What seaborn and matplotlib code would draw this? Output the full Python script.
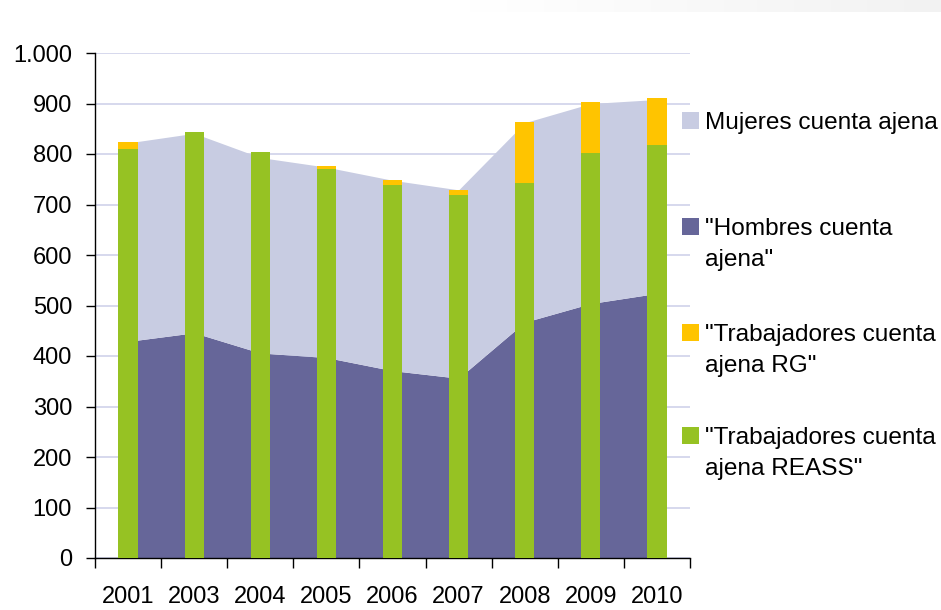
import numpy as np
import pandas as pd
import matplotlib
matplotlib.use("Agg")
import matplotlib.pyplot as plt
import seaborn as sns
from matplotlib.patches import Rectangle
from matplotlib.colors import LinearSegmentedColormap

# ---- data ----
years = ["2001", "2003", "2004", "2005", "2006", "2007", "2008", "2009", "2010"]
hombres = [429, 446, 406, 397, 371, 356, 467, 504, 524]
mujeres = [393, 395, 387, 377, 377, 373, 395, 396, 384]
reass = [810, 844, 804, 770, 739, 719, 743, 802, 818]
rg = [14, 0, 0, 6, 10, 10, 120, 101, 93]
yticks = [0, 100, 200, 300, 400, 500, 600, 700, 800, 900, 1000]
ytick_labels = ["0", "100", "200", "300", "400", "500", "600", "700", "800", "900", "1.000"]
legend_labels = [
    ["Mujeres cuenta ajena"],
    ['"Hombres cuenta', 'ajena"'],
    ['"Trabajadores cuenta', 'ajena RG"'],
    ['"Trabajadores cuenta', 'ajena REASS"'],
]

# ---- style ----
c_muj = "#C8CCE2"
c_hom = "#666699"
c_rg = "#FFC400"
c_reass = "#96C223"
c_grid = "#D3D6EC"

sns.set_theme(style="white")
plt.rcParams["font.family"] = ["Liberation Sans", "DejaVu Sans"]

W, H = 941, 610
fig = plt.figure(figsize=(W / 100, H / 100), dpi=100)

# faint top band
band = fig.add_axes([0, 1 - 12 / H, 1, 12 / H])
grad = np.linspace(0, 1, 256).reshape(1, -1)
cmap = LinearSegmentedColormap.from_list("band", [(0, "#FFFFFF"), (0.5, "#FFFFFF"), (1, "#F2F2F2")])
band.imshow(grad, aspect="auto", cmap=cmap, extent=[0, 1, 0, 1])
band.axis("off")

ax = fig.add_axes([95 / W, 52 / H, 595 / W, 505 / H])

df = pd.DataFrame({
    "year": years,
    "total": np.array(reass) + np.array(rg),
    "reass": reass,
})

sns.barplot(data=df, x="year", y="total", order=years, color=c_rg, saturation=1,
            width=0.29, linewidth=0, ax=ax, zorder=3)
sns.barplot(data=df, x="year", y="reass", order=years, color=c_reass, saturation=1,
            width=0.29, linewidth=0, ax=ax, zorder=4)

x = np.arange(len(years))
ax.stackplot(x, hombres, mujeres, colors=[c_hom, c_muj], linewidth=0, zorder=1)

ax.set_xlim(-0.5, len(years) - 0.5)
ax.set_ylim(0, 1000)
ax.set_yticks(yticks)
ax.set_yticklabels(ytick_labels)
ax.set_xticks(x)
ax.set_xticklabels(years)
ax.set_xticks(np.arange(-0.5, len(years), 1), minor=True)
ax.set_xlabel("")
ax.set_ylabel("")

ax.tick_params(axis="y", which="major", left=True, length=6.5, width=1, color="black",
               direction="out", pad=10, labelsize=17, labelcolor="black")
ax.tick_params(axis="x", which="major", bottom=True, length=0, pad=20.5,
               labelsize=17, labelcolor="black")
ax.tick_params(axis="x", which="minor", bottom=True, length=7, width=1,
               color="black", direction="out")

for s in ["top", "right"]:
    ax.spines[s].set_visible(False)
for s in ["left", "bottom"]:
    ax.spines[s].set_visible(True)
    ax.spines[s].set_color("black")
    ax.spines[s].set_linewidth(1)

ax.yaxis.grid(True, color=c_grid, linewidth=1.3)
ax.xaxis.grid(False)
ax.set_axisbelow(True)

# ---- legend (manual, Excel style: marker aligned with first line) ----
leg_colors = [c_muj, c_hom, c_rg, c_reass]
first_baselines = [129, 235, 341, 444]
line_gap = 31
for col, lines, base in zip(leg_colors, legend_labels, first_baselines):
    fig.patches.append(Rectangle((682 / W, 1 - base / H), 17 / W, 17 / H,
                                 transform=fig.transFigure, facecolor=col,
                                 edgecolor="none"))
    for i, t in enumerate(lines):
        fig.text(705 / W, 1 - (base + i * line_gap) / H, t, ha="left",
                 va="baseline", fontsize=17.6, color="black")

fig.savefig("out.png", dpi=100)
